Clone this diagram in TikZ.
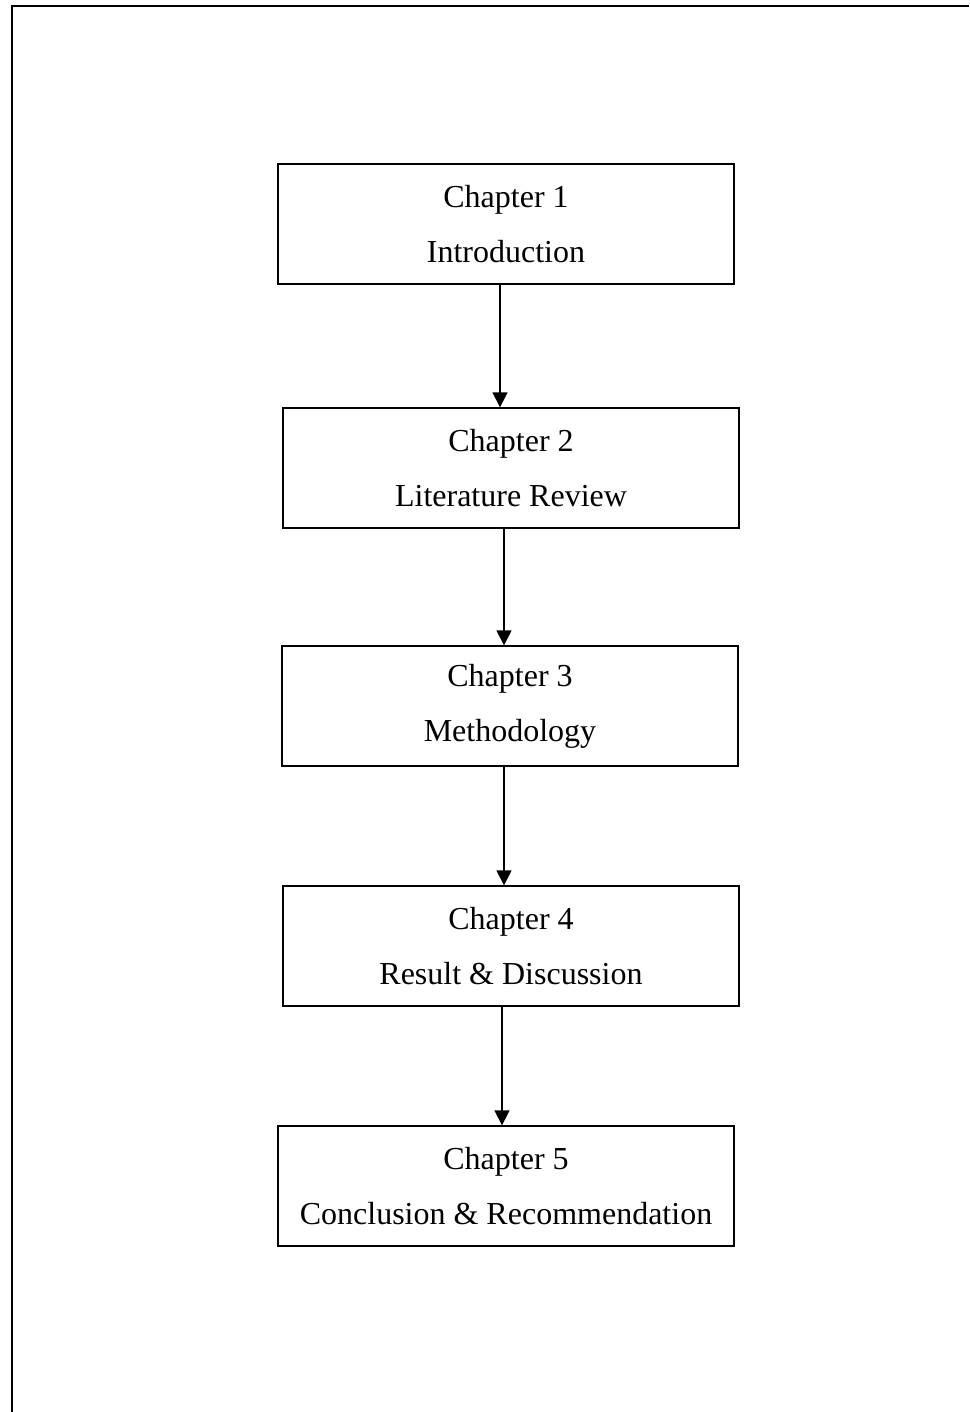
\documentclass[tikz,border=0pt]{standalone}
\usepackage{fontspec}
\setmainfont{Liberation Serif}
\usetikzlibrary{arrows.meta}

\begin{document}
\begin{tikzpicture}[x=0.5pt, y=-0.5pt,
		chapbox/.style={draw, line width=0.65pt, rectangle, minimum width=228pt, minimum height=60pt,
			inner sep=0pt, align=center, font=\fontsize{16}{27.5}\selectfont},
		flow/.style={line width=0.65pt, -{Triangle[width=7.5pt, length=7.5pt]}}]
		%%%%% START %%%%%
		
		\useasboundingbox (0, 0) rectangle (969, 1412);
		
		% page frame
		\draw[line width=1pt] (12, 1412) -- (12, 6) -- (969, 6);
		
		% chapters
		\node[chapbox] (ch1) at (506, 224) {Chapter 1\\Introduction};
		\node[chapbox] (ch2) at (511, 468) {Chapter 2\\Literature Review};
		\node[chapbox] (ch3) at (510, 706) {Chapter 3\\Methodology};
		\node[chapbox] (ch4) at (511, 946) {Chapter 4\\Result \& Discussion};
		\node[chapbox] (ch5) at (506, 1186) {Chapter 5\\Conclusion \& Recommendation};
		
		% arrows
		\draw[flow] (ch1.south -| 500, 0) -- (ch2.north -| 500, 0);
		\draw[flow] (ch2.south -| 504, 0) -- (ch3.north -| 504, 0);
		\draw[flow] (ch3.south -| 504, 0) -- (ch4.north -| 504, 0);
		\draw[flow] (ch4.south -| 502, 0) -- (ch5.north -| 502, 0);
		
		%%%%% END %%%%%
	\end{tikzpicture}
\end{document}
